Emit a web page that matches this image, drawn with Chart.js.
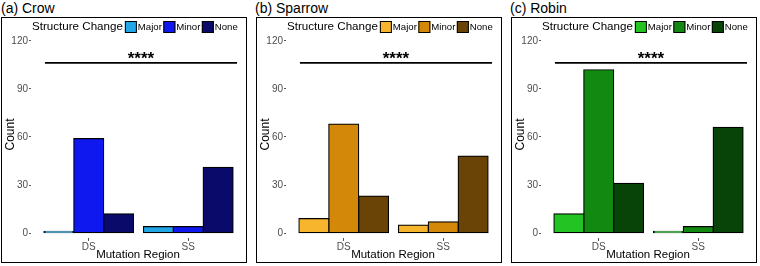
<!DOCTYPE html>
<html>
<head>
<meta charset="utf-8">
<script src="https://cdn.jsdelivr.net/npm/chart.js@4"></script>
<style>
  body{margin:0;width:760px;height:266px;background:#fff;position:relative;overflow:hidden;font-family:"Liberation Sans",Arial,sans-serif;}
  .ttl{position:absolute;top:0;font-size:14px;line-height:16px;color:#000;}
  .box{position:absolute;top:17px;width:246px;height:246px;}
  .box canvas{position:absolute;left:0;top:0;}
  .frame{position:absolute;left:0;top:0;right:0;bottom:0;border:1.5px solid #000;pointer-events:none;}
</style>
</head>
<body>
<div class="ttl" style="left:1px">(a) Crow</div>
<div class="ttl" style="left:255px">(b) Sparrow</div>
<div class="ttl" style="left:510px">(c) Robin</div>
<div class="box" style="left:1px"><canvas id="c-crow" width="246" height="246"></canvas><div class="frame"></div></div>
<div class="box" style="left:256px"><canvas id="c-sparrow" width="246" height="246"></canvas><div class="frame"></div></div>
<div class="box" style="left:511px"><canvas id="c-robin" width="246" height="246"></canvas><div class="frame"></div></div>
<script>
// data
const regions=['DS','SS'];
const changes=['Major','Minor','None'];
const yTicks=[0,30,60,90,120];
const legendTitle='Structure Change';

const crowMajor=[1,4], crowMinor=[59,4], crowNone=[12,41];
const sparrowMajor=[9,5], sparrowMinor=[68,7], sparrowNone=[23,48];
const robinMajor=[12,1], robinMinor=[102,4], robinNone=[31,66];

const crowColors=['#22a6e6','#0f18ef','#0a0a6a'];
const sparrowColors=['#f6b52c','#d4880a','#6a4407'];
const robinColors=['#22c322','#128a12','#084408'];

// significance bracket (data units) and label
const sigFrom=-0.44, sigTo=1.49, sigY=106.3, sigLabel='****';

const FONT='"Liberation Sans", Arial, sans-serif';

const decor={
  id:'decor',
  afterDatasetsDraw(chart){
    const {ctx,scales:{x,y}}=chart;
    ctx.save();
    const py=y.getPixelForValue(sigY);
    ctx.strokeStyle='#000';ctx.lineWidth=1.6;
    ctx.beginPath();ctx.moveTo(x.getPixelForValue(sigFrom),py);ctx.lineTo(x.getPixelForValue(sigTo),py);ctx.stroke();
    ctx.fillStyle='#000';ctx.font='bold 17px '+FONT;ctx.textAlign='center';ctx.textBaseline='alphabetic';
    ctx.fillText(sigLabel,x.getPixelForValue((sigFrom+sigTo)/2),py+1.5);
    ctx.restore();
  },
  afterDraw(chart){
    const ctx=chart.ctx;
    ctx.save();
    let lx=31; const ly=10;
    ctx.textBaseline='middle';ctx.textAlign='left';ctx.fillStyle='#000';
    ctx.font='11.6px '+FONT;
    ctx.fillText(legendTitle,lx,ly);
    lx+=ctx.measureText(legendTitle).width+2;
    ctx.font='9.6px '+FONT;
    chart.data.datasets.forEach(ds=>{
      ctx.fillStyle=ds.backgroundColor;ctx.fillRect(lx,ly-6,12,12);
      ctx.strokeStyle='#000';ctx.lineWidth=1;ctx.strokeRect(lx+0.5,ly-5.5,11,11);
      lx+=13;
      ctx.fillStyle='#000';ctx.fillText(ds.label,lx,ly+0.5);
      lx+=ctx.measureText(ds.label).width+1.5;
    });
    ctx.restore();
  }
};

function makePanel(id,series,colors){
  new Chart(document.getElementById(id),{
    type:'bar',
    data:{datasets:changes.map((c,k)=>({
      label:c,
      data:regions.map((r,i)=>({x:i,y:series[k][i]})),
      backgroundColor:colors[k],borderColor:'#000',borderWidth:1.2,
      borderSkipped:false,inflateAmount:0.6,
      categoryPercentage:0.9,barPercentage:1
    }))},
    options:{
      responsive:false,animation:false,
      layout:{padding:{top:14,left:0,right:2,bottom:0}},
      plugins:{legend:{display:false},tooltip:{enabled:false}},
      scales:{
        x:{type:'linear',min:-0.58,max:1.57,offset:false,
          afterBuildTicks:s=>{s.ticks=regions.map((r,i)=>({value:i}));},
          afterFit:s=>{s.height=25;},
          border:{display:false},
          grid:{offset:false,drawOnChartArea:false,drawTicks:true,tickLength:3,tickColor:'#555',tickWidth:1},
          ticks:{padding:0,color:'#4d4d4d',font:{family:FONT,size:10},callback:v=>regions[v]},
          title:{display:true,text:'Mutation Region',color:'#000',font:{family:FONT,size:11.5},padding:{top:0,bottom:1}}
        },
        y:{min:-3.1,max:126.2,
          afterBuildTicks:s=>{s.ticks=yTicks.map(v=>({value:v}));},
          afterFit:s=>{s.width=30;},
          border:{display:false},
          grid:{drawOnChartArea:false,drawTicks:true,tickLength:2,tickColor:'#555',tickWidth:1},
          ticks:{padding:1,color:'#4d4d4d',font:{family:FONT,size:10}},
          title:{display:true,text:'Count',color:'#000',font:{family:FONT,size:12},padding:{top:2,bottom:0}}
        }
      }
    },
    plugins:[decor]
  });
}

makePanel('c-crow',[crowMajor,crowMinor,crowNone],crowColors);
makePanel('c-sparrow',[sparrowMajor,sparrowMinor,sparrowNone],sparrowColors);
makePanel('c-robin',[robinMajor,robinMinor,robinNone],robinColors);
</script>
</body>
</html>
